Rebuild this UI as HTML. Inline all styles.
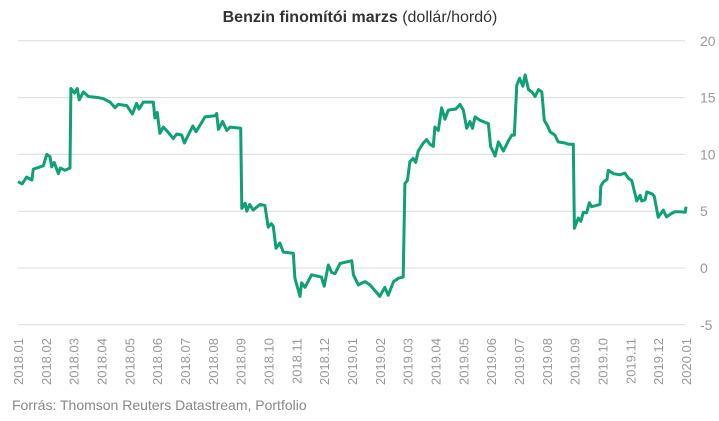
<!DOCTYPE html>
<html><head><meta charset="utf-8"><style>
body{margin:0;background:#fff;width:719px;height:416px;overflow:hidden;font-family:"Liberation Sans",sans-serif}
</style></head><body>
<svg id="chart" width="719" height="416" xmlns="http://www.w3.org/2000/svg" font-family="Liberation Sans, sans-serif">
<text x="360" y="22" text-anchor="middle" font-size="16" fill="#333"><tspan font-weight="bold">Benzin finomítói marzs</tspan> (dollár/hordó)</text>
<g id="grid"></g>
<g id="yax"></g>
<g id="xax"></g>
<g id="series"></g>
<text x="12" y="410" font-size="14" fill="#888">Forrás: Thomson Reuters Datastream, Portfolio</text>
</svg>
<script>
const yTicks=[20,15,10,5,0,-5];
const xLabels=["2018.01","2018.02","2018.03","2018.04","2018.05","2018.06","2018.07","2018.08","2018.09","2018.10","2018.11","2018.12","2019.01","2019.02","2019.03","2019.04","2019.05","2019.06","2019.07","2019.08","2019.09","2019.10","2019.11","2019.12","2020.01"];
const months=[0,0.15,0.31,0.5,0.55,0.91,1.03,1.15,1.21,1.3,1.45,1.52,1.69,1.87,1.9,2.03,2.13,2.2,2.35,2.53,2.89,3.07,3.31,3.49,3.6,3.91,4.11,4.26,4.35,4.5,4.86,4.92,5.0,5.1,5.22,5.34,5.58,5.7,5.88,5.98,6.12,6.28,6.4,6.72,7.08,7.14,7.2,7.35,7.5,7.62,8.0,8.04,8.16,8.22,8.32,8.45,8.7,8.87,8.99,9.1,9.17,9.27,9.41,9.53,9.89,9.95,10.13,10.19,10.31,10.55,10.9,11.0,11.15,11.27,11.39,11.57,11.99,12.05,12.23,12.29,12.47,12.65,13.0,13.18,13.3,13.49,13.67,13.84,13.9,13.99,14.08,14.2,14.29,14.38,14.56,14.68,14.8,14.92,14.98,15.1,15.22,15.34,15.46,15.73,15.88,16.0,16.12,16.24,16.33,16.42,16.6,16.9,16.98,17.14,17.26,17.44,17.62,17.74,17.83,17.92,18.02,18.14,18.22,18.34,18.46,18.58,18.7,18.82,18.91,19.05,19.11,19.29,19.41,19.65,19.77,19.95,19.99,20.13,20.22,20.31,20.43,20.53,20.61,20.91,20.94,21.04,21.16,21.21,21.4,21.62,21.8,21.93,22.05,22.17,22.23,22.35,22.41,22.53,22.59,22.8,22.86,23.0,23.18,23.3,23.48,23.6,23.78,23.97,24.0];
const values=[7.6,7.4,8.0,7.75,8.7,9.0,10.0,9.8,8.9,9.3,8.3,8.8,8.6,8.8,15.8,15.4,15.8,14.8,15.5,15.1,15.0,14.9,14.6,14.1,14.4,14.3,13.56,14.5,14.0,14.6,14.6,13.2,13.7,11.85,12.4,12.1,11.4,11.8,11.7,11.0,11.7,12.5,12.0,13.3,13.4,13.6,12.2,12.9,12.1,12.4,12.3,5.25,5.7,5.0,5.6,5.1,5.6,5.5,3.6,3.9,3.7,1.73,2.2,1.4,1.3,-0.9,-2.5,-1.3,-1.7,-0.6,-0.8,-1.6,0.26,-0.4,-0.5,0.4,0.64,-0.6,-1.5,-1.4,-1.2,-1.5,-2.5,-1.7,-2.4,-1.2,-0.9,-0.8,7.45,7.7,9.36,9.65,9.3,10.3,11.0,11.3,10.9,10.7,12.4,12.1,14.1,13.1,13.9,14.0,14.4,13.9,12.3,12.9,12.3,13.3,13.0,12.7,10.7,9.86,11.1,10.3,11.2,11.7,11.7,16.1,16.7,16.0,17.0,15.7,15.5,15.1,15.7,15.5,13.0,12.4,12.0,11.7,11.1,11.0,10.9,10.9,3.5,4.4,4.1,4.9,4.85,5.75,5.4,5.6,7.2,7.6,7.8,8.6,8.3,8.2,8.35,7.9,7.7,6.5,5.9,6.4,5.9,6.0,6.7,6.5,6.3,4.46,5.1,4.5,4.8,4.95,4.95,4.9,5.4];

const NS="http://www.w3.org/2000/svg";
const X0=18,X1=686,Y0=268,PX=11.36;
function xs(m){return X0+(X1-X0)*m/24;}
function ys(v){return Y0-v*PX;}
const grid=document.getElementById('grid'),yax=document.getElementById('yax'),xax=document.getElementById('xax'),ser=document.getElementById('series');
yTicks.forEach(t=>{
  const l=document.createElementNS(NS,'line');
  
  
  l.setAttribute('x1',X0);l.setAttribute('x2',685);l.setAttribute('y1',ys(t));l.setAttribute('y2',ys(t));
  l.setAttribute('stroke','#dcdcdc');l.setAttribute('stroke-width','1');
  grid.appendChild(l);
  const tx=document.createElementNS(NS,'text');
  
  
  tx.setAttribute('x',700);tx.setAttribute('y',ys(t)+5);tx.setAttribute('font-size','14');tx.setAttribute('fill','#999');
  tx.textContent=t;yax.appendChild(tx);
});
xLabels.forEach((s,i)=>{
  const x=xs(i)+5,y=338;
  const tx=document.createElementNS(NS,'text');
  
  
  tx.setAttribute('x',x);tx.setAttribute('y',y);tx.setAttribute('text-anchor','end');
  tx.setAttribute('transform','rotate(-90 '+x+' '+y+')');
  tx.setAttribute('font-size','13');tx.setAttribute('fill','#999');
  tx.textContent=s;xax.appendChild(tx);
});
const p=document.createElementNS(NS,'polyline');


p.setAttribute('points',months.map((m,i)=>xs(m).toFixed(1)+','+ys(values[i]).toFixed(1)).join(' '));
p.setAttribute('fill','none');p.setAttribute('stroke','#0fa078');p.setAttribute('stroke-width','3');p.setAttribute('stroke-linejoin','round');
ser.appendChild(p);
</script>
</body></html>
